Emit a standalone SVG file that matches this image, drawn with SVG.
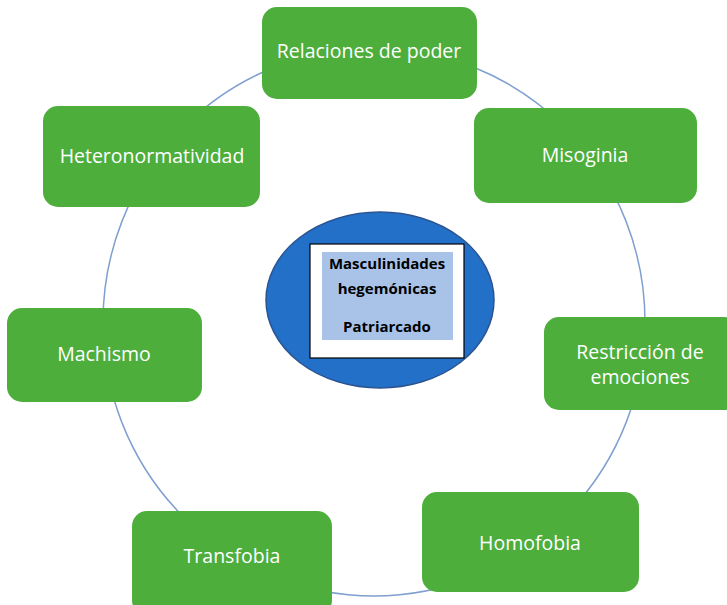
<svg xmlns="http://www.w3.org/2000/svg" width="727" height="605" viewBox="0 0 727 605">
<style>
.box{fill:#4DAE3C;}
.lbl{font-family:"Open Sans","Liberation Sans",sans-serif;font-size:19.5px;fill:#ffffff;text-anchor:middle;}
.ctr{font-family:"Open Sans","Liberation Sans",sans-serif;font-size:15px;font-weight:bold;fill:#000000;text-anchor:middle;}
</style>
<rect width="727" height="605" fill="#ffffff"/>
<g id="connectors">
<ellipse cx="374" cy="322" rx="271" ry="274" fill="none" stroke="#7F9FD0" stroke-width="1.5"/>
</g>
<g id="center">
<ellipse cx="380" cy="300" rx="114" ry="88" fill="#2370C8" stroke="#2B5491" stroke-width="1.5"/>
<rect x="310" y="244" width="154" height="114" fill="#ffffff" stroke="#000000" stroke-width="1.2"/>
<rect x="322" y="252" width="131" height="88" fill="#A9C3E8"/>
<text class="ctr" x="387" y="269">Masculinidades</text>
<text class="ctr" x="387" y="294">hegemónicas</text>
<text class="ctr" x="387" y="332">Patriarcado</text>
</g>
<g id="relaciones">
<rect class="box" x="262" y="7" width="215" height="92" rx="15"/>
<text class="lbl" x="369" y="58">Relaciones de poder</text>
</g>
<g id="misoginia">
<rect class="box" x="474" y="108" width="223" height="95" rx="15"/>
<text class="lbl" x="585" y="162">Misoginia</text>
</g>
<g id="heteronormatividad">
<rect class="box" x="43" y="106" width="217" height="101" rx="15"/>
<text class="lbl" x="152" y="163">Heteronormatividad</text>
</g>
<g id="restriccion">
<rect class="box" x="544" y="317" width="195" height="93" rx="15"/>
<text class="lbl" x="640" y="359">Restricción de</text>
<text class="lbl" x="640" y="384">emociones</text>
</g>
<g id="machismo">
<rect class="box" x="7" y="308" width="195" height="94" rx="15"/>
<text class="lbl" x="104" y="361">Machismo</text>
</g>
<g id="transfobia">
<rect class="box" x="132" y="511" width="200" height="104" rx="15"/>
<text class="lbl" x="232" y="563">Transfobia</text>
</g>
<g id="homofobia">
<rect class="box" x="422" y="492" width="217" height="100" rx="15"/>
<text class="lbl" x="530" y="550">Homofobia</text>
</g>
</svg>
